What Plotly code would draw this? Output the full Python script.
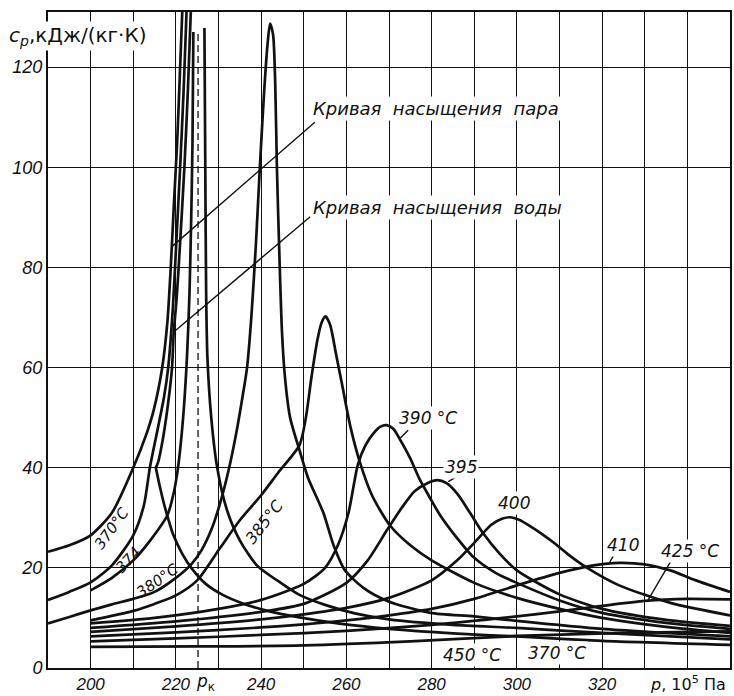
import plotly.graph_objects as go

# ---------------- data (p in 10^5 Pa, cp in kJ/(kg*K)) ----------------
# 370 °C vapour branch joined to the saturated-vapour curve
p_370v = [190, 195, 200, 205, 210, 213, 214.8, 216.8, 218, 218.8, 219.5, 220.3, 221, 221.5, 221.8]
cp_370v = [23.2, 24.5, 26.5, 31, 40, 46.5, 51.5, 60, 69, 80, 92, 105, 120, 131, 137]
# 374 °C vapour branch
p_374v = [190, 195, 200, 205, 210, 212.5, 213.9, 215.8, 217.2, 218.2, 219.3, 220.1, 221, 221.8, 222.5, 222.8]
cp_374v = [13.6, 15.2, 17.1, 20.5, 26.5, 32.5, 40, 48, 54, 60, 72, 85, 100, 115, 131, 137]
# saturated-liquid curve (down to the 370 °C saturation point)
p_satw = [223.8, 223.5, 222.8, 222, 221, 220.2, 219.5, 219.1, 218.2, 217, 215.8, 215.3]
cp_satw = [137, 131, 115, 100, 85, 74, 67, 60, 53, 46, 41, 40]
# 370 °C liquid branch
p_370l = [215.3, 216.3, 217.3, 218.2, 219.3, 221.5, 223.8, 227, 231, 236, 242, 249, 258, 270, 285, 300, 320, 350]
cp_370l = [40, 36, 32.5, 29.8, 26.8, 22.8, 19.8, 16.8, 14.6, 12.8, 11.3, 10.1, 8.9, 7.8, 6.9, 6.3, 5.4, 4.6]
# near-critical isotherm (rising side, open top)
p_ncr = [200, 205, 210, 214, 218, 219.5, 220.5, 221.7, 222.6, 223.2, 223.6, 223.9, 224.1]
cp_ncr = [15.5, 18, 21.5, 25.5, 30.5, 35, 40, 50, 62, 75, 90, 105, 127]
# near-critical isotherm (falling side, open top)
p_ncf = [226.7, 226.9, 227.1, 227.4, 228.3, 229.7, 232, 235, 239, 244.6, 249, 255, 262, 270, 285, 300, 320, 350]
cp_ncf = [127.8, 100, 75, 62, 50, 40, 31.5, 25.5, 20.5, 17, 14.6, 12.6, 10.9, 9.7, 8.6, 8.0, 7.0, 5.7]
# 380 °C
p_380 = [190, 195, 200, 205, 210, 215, 220, 223.5, 226, 228.5, 230.4, 232.5, 234.4, 235.8, 236.7, 237.7,
         238.8, 239.7, 240.7, 241.5, 242.1, 242.8, 243.3, 243.7, 244.3, 244.9, 245.6, 246.8, 249, 251,
         254.6, 257, 259.6, 264, 269.6, 279.7, 290, 300, 320, 350]
cp_380 = [8.9, 10.2, 11.5, 12.7, 13.8, 15.2, 18, 20.6, 23.5, 28, 33, 40, 48, 55, 60, 70,
          85, 100, 115, 124.5, 128.7, 126.5, 117, 100, 82, 67, 58, 50, 43.5, 38,
          31, 24.5, 19.6, 16, 13.4, 11, 10.3, 9.4, 7.8, 6.3]
# 385 °C
p_385 = [200, 210, 215, 220, 225, 230.4, 235, 240, 244, 249, 250.5, 251.8, 253.2, 254.2, 255.1, 256.2,
         257.5, 258.9, 261, 263.2, 266, 270.2, 275, 280, 290, 300, 310, 320, 335, 350]
cp_385 = [9.5, 11.4, 12.8, 14.5, 17.5, 24, 29.5, 34.5, 39, 44.5, 50, 58, 65.5, 69, 70.2, 68.5,
          63, 57, 48, 41, 34.5, 28.5, 24.5, 21.5, 17, 14, 11.8, 10, 8.2, 7]
# 390 °C
p_390 = [200, 215, 230, 240, 250, 255, 258, 260.5, 262.7, 264.5, 266.5, 268, 269.4, 271, 273, 274.9,
         277.3, 279.6, 282, 285, 290, 295, 300, 310, 320, 335, 350]
cp_390 = [8.9, 10, 11.8, 13.6, 16.8, 20, 24.5, 31, 40.6, 44.5, 47, 48.2, 48.5, 47.8, 45, 42,
          37.5, 34, 30.5, 27, 22, 19, 17, 13.5, 11, 9, 7.8]
# 395 °C
p_395 = [200, 220, 240, 250, 260, 265, 269.5, 273, 276, 279, 281.3, 283.5, 286, 289, 292, 296, 300,
         310, 320, 335, 350]
cp_395 = [8, 9.3, 11.2, 12.8, 17, 21.5, 27.5, 32, 35.3, 36.9, 37.5, 36.9, 34.8, 31, 27, 22.8, 19.5,
          14.7, 11.8, 9.6, 8.4]
# 400 °C
p_400 = [200, 220, 240, 250, 260, 270, 280, 286, 290, 294, 296.5, 298.5, 300.5, 303, 306, 309, 312,
         316.5, 324, 336, 350]
cp_400 = [7.2, 8.3, 9.7, 10.7, 12, 14, 17.5, 21.5, 25, 28.6, 29.8, 30.1, 29.6, 28.4, 26.7, 24.8, 22.7,
          20, 16.5, 13, 10.5]
# 410 °C
p_410 = [200, 220, 240, 250, 260, 270, 280, 290, 300, 310, 318, 324, 330, 336, 342, 350]
cp_410 = [6.3, 7.1, 8.1, 8.7, 9.5, 10.5, 11.8, 13.8, 16.5, 19, 20.5, 21, 20.7, 19.5, 17.5, 15.2]
# 425 °C
p_425 = [200, 220, 240, 260, 280, 300, 310, 320, 330, 340, 350]
cp_425 = [5.3, 5.9, 6.6, 7.4, 8.6, 10.3, 11.3, 12.4, 13.4, 13.8, 13.7]
# 450 °C
p_450 = [200, 225, 250, 275, 300, 325, 350]
cp_450 = [4.2, 4.3, 4.5, 5.3, 6.4, 7, 7.3]

p_crit = 225.2          # critical pressure mark (dashed line)
cp_crit_top = 127

x_ticks = [200, 220, 240, 260, 280, 300, 320]
x_minor = [210, 230, 250, 270, 290, 310, 330, 340, 350]
y_ticks = [0, 20, 40, 60, 80, 100, 120]

curves = [
    (p_370v, cp_370v), (p_374v, cp_374v), (p_satw, cp_satw), (p_370l, cp_370l),
    (p_ncr, cp_ncr), (p_ncf, cp_ncf), (p_380, cp_380), (p_385, cp_385),
    (p_390, cp_390), (p_395, cp_395), (p_400, cp_400), (p_410, cp_410),
    (p_425, cp_425), (p_450, cp_450),
]

FONT = "DejaVu Sans"
INK = "#111111"

fig = go.Figure()
for px_, py_ in curves:
    fig.add_trace(go.Scatter(
        x=px_, y=py_, mode="lines",
        line=dict(color=INK, width=2.7, shape="spline", smoothing=0.7),
        hoverinfo="skip", showlegend=False,
    ))

# critical pressure dashed line
fig.add_shape(type="line", x0=p_crit, x1=p_crit, y0=0, y1=cp_crit_top,
              xref="x", yref="y", line=dict(color=INK, width=1.3, dash="7px,4px"))

# leader lines
leaders = [
    ((219.0, 84.1), (252.6, 109.0)),
    ((219.5, 67.1), (251.5, 90.1)),
    ((274.5, 47.5), (272.6, 45.9)),
    ((285.9, 38.2), (283.9, 37.2)),
    ((323.0, 22.9), (321.8, 21.2)),
    ((336.3, 21.6), (330.8, 13.6)),
]
for (xa, ya), (xb, yb) in leaders:
    fig.add_shape(type="line", x0=xa, y0=ya, x1=xb, y1=yb, xref="x", yref="y",
                  line=dict(color=INK, width=1.4))

def label(text, x, y, angle=0, size=16, bg=None, xanchor="center"):
    fig.add_annotation(
        x=x, y=y, xref="x", yref="y", text=text, showarrow=False, textangle=angle,
        xanchor=xanchor, yanchor="middle",
        font=dict(family=FONT, size=size, color=INK, style="italic"),
        bgcolor=bg, borderpad=1,
    )

label("370°C", 205.0, 28.0, angle=-54, size=15)
label("374", 208.8, 21.6, angle=-47, size=15)
label("380°C", 215.6, 17.4, angle=-35, size=15)
label("385°C", 240.8, 29.3, angle=-52)
label("390 °C", 279.2, 49.9, size=17, bg="white")
label("395", 286.9, 40.2, size=17, bg="white")
label("400", 299.3, 32.9, size=17, bg="white")
label("410", 324.9, 24.6, size=17, bg="white")
label("425 °C", 340.6, 23.4, size=17, bg="white")
label("450 °C", 289.4, 2.6, size=17, bg="white")
label("370 °C", 309.3, 2.9, size=17, bg="white")
label("Кривая  насыщения  пара", 251.8, 111.8, size=18, bg="white", xanchor="left")
label("Кривая  насыщения  воды", 251.8, 91.9, size=18, bg="white", xanchor="left")

# axis titles as annotations
fig.add_annotation(xref="paper", yref="paper", x=-0.06, y=0.963, xanchor="left", yanchor="middle",
                   text="<i>c<sub>p</sub></i>,кДж/(кг·К)", showarrow=False, bgcolor="white",
                   font=dict(family=FONT, size=20, color=INK))
fig.add_annotation(xref="x", yref="paper", x=224.3, y=-0.022, xanchor="left", yanchor="middle",
                   text="<i>p</i><sub>к</sub>", showarrow=False,
                   font=dict(family=FONT, size=17, color=INK))
fig.add_annotation(xref="paper", yref="paper", x=0.997, y=-0.024, xanchor="right", yanchor="middle",
                   text="<i>p</i>, 10<sup>5</sup> Па", showarrow=False,
                   font=dict(family=FONT, size=16, color=INK))

fig.update_layout(
    width=734, height=696,
    margin=dict(l=48, r=4, t=12, b=28, autoexpand=False),
    paper_bgcolor="white", plot_bgcolor="white",
    showlegend=False,
)
fig.update_xaxes(
    range=[190, 350], tickmode="array", tickvals=x_ticks, ticktext=[str(v) for v in x_ticks],
    showgrid=True, gridcolor=INK, gridwidth=1,
    minor=dict(tickmode="array", tickvals=x_minor, showgrid=True, gridcolor=INK, gridwidth=1),
    showline=True, linecolor=INK, linewidth=2, mirror=True, zeroline=False, ticks="",
    automargin=False, ticklabelstandoff=0,
    tickfont=dict(family="Liberation Sans", size=17, color=INK, style="italic"),
)
fig.update_yaxes(
    range=[0, 131], tickmode="array", tickvals=y_ticks, ticktext=[str(v) for v in y_ticks],
    showgrid=True, gridcolor=INK, gridwidth=1,
    showline=True, linecolor=INK, linewidth=2, mirror=True, zeroline=False, ticks="",
    automargin=False,
    tickfont=dict(family="Liberation Sans", size=18, color=INK, style="italic"),
)

fig.write_html("out.html", config={"displayModeBar": False},
               post_script="document.body.style.margin='0px';document.body.style.padding='0px';")
